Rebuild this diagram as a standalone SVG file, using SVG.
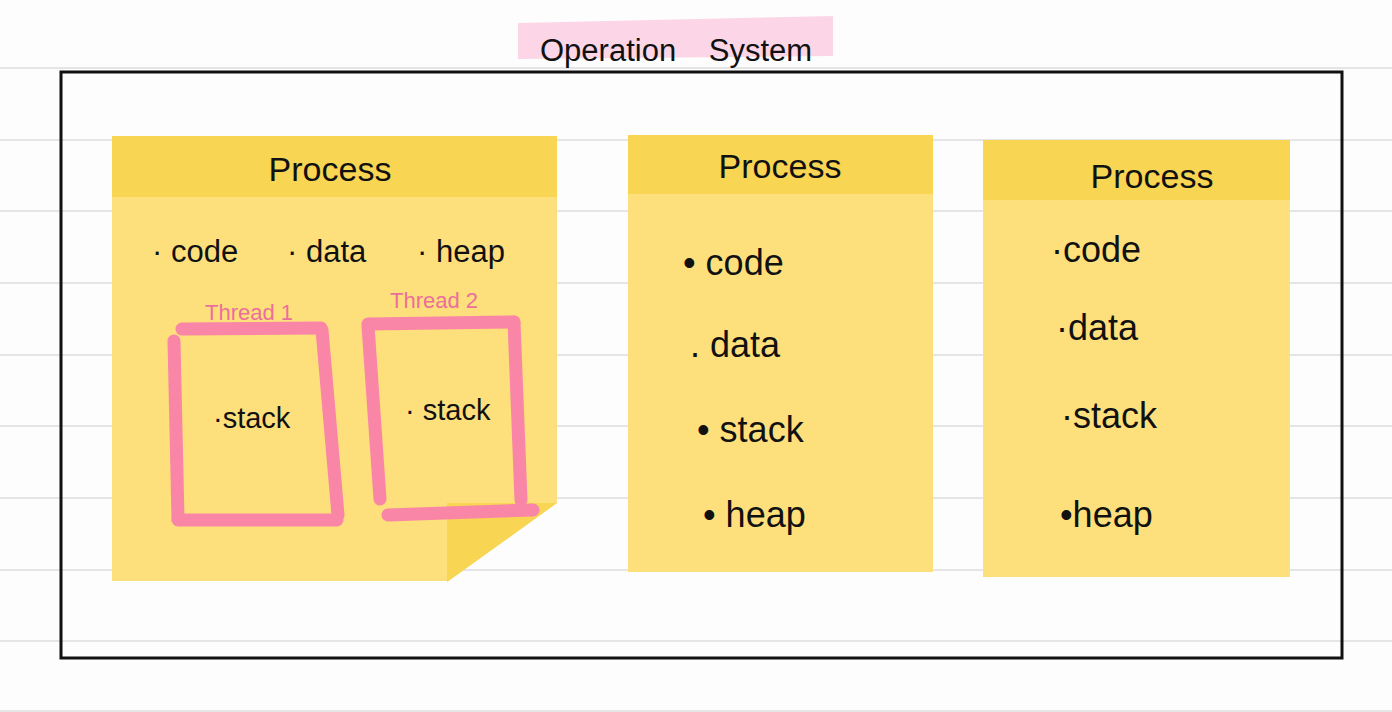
<svg xmlns="http://www.w3.org/2000/svg" width="1392" height="712" viewBox="0 0 1392 712">
  <style>
    .rule { stroke: #dcdcdc; stroke-width: 1.5; }
    .hdr { fill: #f8d552; }
    .body { fill: #fde07c; }
    .txt { font-family: "Liberation Sans", "DejaVu Sans", sans-serif; fill: #111111; }
    .title { font-size: 34px; text-anchor: middle; }
    .item { font-size: 36px; }
    .item1 { font-size: 31px; }
    .thr { fill: none; stroke: #f986a6; stroke-width: 13; stroke-linecap: round; }
    .tlabel { font-family: "Liberation Sans", "DejaVu Sans", sans-serif; font-size: 22px; fill: #ec6f9b; }
  </style>
  <rect x="0" y="0" width="1392" height="712" fill="#fdfdfd"/>
  <g id="ruled-lines">
    <line class="rule" x1="0" y1="68" x2="1392" y2="68"/>
    <line class="rule" x1="0" y1="140" x2="1392" y2="140"/>
    <line class="rule" x1="0" y1="211" x2="1392" y2="211"/>
    <line class="rule" x1="0" y1="283" x2="1392" y2="283"/>
    <line class="rule" x1="0" y1="355" x2="1392" y2="355"/>
    <line class="rule" x1="0" y1="426" x2="1392" y2="426"/>
    <line class="rule" x1="0" y1="498" x2="1392" y2="498"/>
    <line class="rule" x1="0" y1="570" x2="1392" y2="570"/>
    <line class="rule" x1="0" y1="641" x2="1392" y2="641"/>
    <line class="rule" x1="0" y1="711" x2="1392" y2="711"/>
  </g>

  <g id="os-title">
    <polygon points="518,23 833,16 833,56 518,59" fill="#fcd6e6"/>
    <text class="txt" x="540" y="61" font-size="31" word-spacing="24">Operation System</text>
  </g>

  <g id="os-frame">
    <rect x="61" y="72" width="1281" height="586" fill="none" stroke="#111111" stroke-width="3"/>
  </g>

  <g id="process-1">
    <rect class="body" x="112" y="196" width="445" height="385"/>
    <rect class="hdr" x="112" y="136" width="445" height="61"/>
    <polygon points="557,503 558,582 447,582" fill="#fdfdfd"/>
    <line class="rule" x1="447" y1="570" x2="558" y2="570"/>
    <polygon points="447,503 557,503 447,582" fill="#f8d552"/>
    <text class="txt title" x="330" y="181">Process</text>
    <text class="txt item1" x="152" y="262">· code</text>
    <text class="txt item1" x="287" y="262">· data</text>
    <text class="txt item1" x="417" y="262">· heap</text>
  </g>

  <g id="thread-1">
    <text class="tlabel" x="205" y="320">Thread 1</text>
    <line class="thr" x1="182" y1="329" x2="321" y2="328"/>
    <line class="thr" x1="174" y1="341" x2="178" y2="519"/>
    <line class="thr" x1="322" y1="330" x2="338" y2="515"/>
    <line class="thr" x1="178" y1="520" x2="337" y2="520"/>
    <text class="txt" x="213" y="428" font-size="29">·stack</text>
  </g>

  <g id="thread-2">
    <text class="tlabel" x="390" y="308">Thread 2</text>
    <line class="thr" x1="368" y1="324" x2="514" y2="322"/>
    <line class="thr" x1="368" y1="326" x2="380" y2="499"/>
    <line class="thr" x1="514" y1="322" x2="521" y2="500"/>
    <line class="thr" x1="388" y1="515" x2="533" y2="510"/>
    <text class="txt" x="405" y="420" font-size="29">· stack</text>
  </g>

  <g id="process-2">
    <rect class="body" x="628" y="193" width="305" height="379"/>
    <rect class="hdr" x="628" y="135" width="305" height="59"/>
    <text class="txt title" x="780" y="178">Process</text>
    <text class="txt item" x="683" y="275">•  code</text>
    <text class="txt item" x="690" y="357">.  data</text>
    <text class="txt item" x="697" y="442">•  stack</text>
    <text class="txt item" x="703" y="527">•  heap</text>
  </g>

  <g id="process-3">
    <rect class="body" x="983" y="199" width="307" height="378"/>
    <rect class="hdr" x="983" y="140" width="307" height="60"/>
    <text class="txt title" x="1152" y="188">Process</text>
    <text class="txt item" x="1051" y="262">·code</text>
    <text class="txt item" x="1056" y="340">·data</text>
    <text class="txt item" x="1061" y="428">·stack</text>
    <text class="txt item" x="1060" y="527">•heap</text>
  </g>

  <g id="connectors"></g>
</svg>
